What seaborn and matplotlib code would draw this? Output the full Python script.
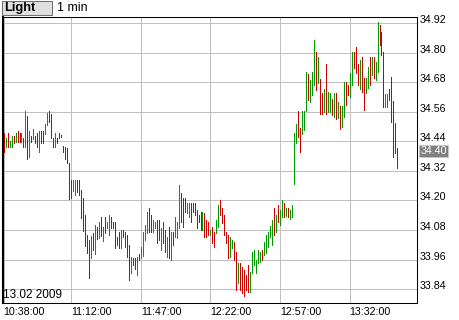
import numpy as np
import pandas as pd
import matplotlib
matplotlib.use("Agg")
import matplotlib.pyplot as plt
import matplotlib.transforms as mtransforms
from matplotlib.patches import Rectangle
import seaborn as sns

# ---------------- data ----------------
first_bar_time = "10:38:00"
date_label = "13.02 2009"
button_label = "Light"
interval_label = "1 min"
last_price = 34.40

xtick_labels = ["10:38:00", "11:12:00", "11:47:00", "12:22:00", "12:57:00", "13:32:00"]
ytick_values = [33.84, 33.96, 34.08, 34.20, 34.32, 34.44, 34.56, 34.68, 34.80, 34.92]

highs = [
    34.475, 34.455, 34.475, 34.442, 34.461, 34.461, 34.475, 34.482, 34.475, 34.475,
    34.455, 34.563, 34.543, 34.482, 34.461, 34.489, 34.461, 34.475, 34.482, 34.482,
    34.482, 34.510, 34.553, 34.563, 34.551, 34.455, 34.475, 34.455, 34.475, 34.464,
    34.421, 34.418, 34.412, 34.352, 34.283, 34.283, 34.283, 34.283, 34.283, 34.243,
    34.210, 34.141, 34.060, 34.040, 34.057, 34.068, 34.101, 34.093, 34.113, 34.133,
    34.093, 34.133, 34.113, 34.141, 34.133, 34.113, 34.113, 34.052, 34.072, 34.080,
    34.080, 34.072, 34.060, 34.020, 33.971, 33.967, 33.967, 33.971, 33.983, 34.011,
    34.072, 34.101, 34.155, 34.171, 34.141, 34.121, 34.114, 34.121, 34.121, 34.087,
    34.114, 34.080, 34.053, 34.094, 34.073, 34.073, 34.134, 34.114, 34.263, 34.229,
    34.209, 34.209, 34.189, 34.189, 34.189, 34.189, 34.189, 34.161, 34.141, 34.155,
    34.155, 34.148, 34.121, 34.114, 34.080, 34.094, 34.073, 34.121, 34.182, 34.202,
    34.168, 34.141, 34.073, 34.060, 34.053, 34.040, 34.033, 33.992, 33.945, 33.945,
    33.932, 33.918, 33.898, 33.938, 33.911, 33.992, 33.999, 33.959, 33.999, 33.992,
    33.999, 34.033, 34.060, 34.073, 34.097, 34.121, 34.168, 34.141, 34.182, 34.161,
    34.202, 34.191, 34.168, 34.168, 34.161, 34.182, 34.475, 34.510, 34.563, 34.493,
    34.563, 34.563, 34.722, 34.712, 34.688, 34.720, 34.851, 34.803, 34.783, 34.691,
    34.635, 34.651, 34.753, 34.641, 34.635, 34.610, 34.635, 34.635, 34.600, 34.583,
    34.583, 34.679, 34.679, 34.668, 34.716, 34.801, 34.803, 34.823, 34.752, 34.770,
    34.783, 34.695, 34.695, 34.742, 34.783, 34.783, 34.783, 34.763, 34.925, 34.911,
    34.884, 34.803, 34.632, 34.632, 34.652, 34.702, 34.603, 34.513, 34.414,
]

lows = [
    34.398, 34.418, 34.418, 34.418, 34.418, 34.432, 34.438, 34.438, 34.438, 34.438,
    34.418, 34.418, 34.368, 34.378, 34.438, 34.449, 34.432, 34.418, 34.398, 34.432,
    34.432, 34.468, 34.506, 34.519, 34.452, 34.418, 34.418, 34.432, 34.455, 34.459,
    34.398, 34.367, 34.351, 34.206, 34.210, 34.238, 34.222, 34.234, 34.222, 34.129,
    34.076, 34.016, 33.987, 33.886, 33.967, 33.999, 33.983, 34.044, 34.048, 34.057,
    34.036, 34.068, 34.089, 34.060, 34.089, 34.089, 34.007, 34.020, 34.007, 34.007,
    34.052, 34.011, 33.971, 33.878, 33.906, 33.938, 33.922, 33.898, 33.959, 33.967,
    33.975, 34.040, 34.067, 34.071, 34.071, 34.073, 34.087, 34.026, 34.040, 33.999,
    34.026, 33.992, 33.972, 33.966, 33.959, 34.020, 34.053, 34.047, 34.087, 34.114,
    34.094, 34.155, 34.148, 34.134, 34.114, 34.153, 34.141, 34.089, 34.113, 34.080,
    34.080, 34.053, 34.053, 34.060, 34.060, 34.026, 34.010, 34.067, 34.094, 34.141,
    34.107, 34.060, 34.026, 33.966, 33.972, 34.006, 33.959, 33.837, 33.867, 33.837,
    33.824, 33.813, 33.837, 33.830, 33.830, 33.905, 33.938, 33.907, 33.945, 33.952,
    33.959, 33.979, 33.986, 34.013, 34.053, 34.020, 34.060, 34.073, 34.114, 34.101,
    34.134, 34.132, 34.137, 34.132, 34.124, 34.132, 34.267, 34.432, 34.459, 34.398,
    34.470, 34.486, 34.563, 34.607, 34.600, 34.628, 34.668, 34.648, 34.675, 34.549,
    34.549, 34.560, 34.549, 34.560, 34.560, 34.547, 34.540, 34.529, 34.533, 34.489,
    34.499, 34.540, 34.587, 34.628, 34.621, 34.668, 34.738, 34.716, 34.668, 34.652,
    34.639, 34.567, 34.635, 34.655, 34.668, 34.709, 34.695, 34.688, 34.722, 34.830,
    34.790, 34.580, 34.580, 34.580, 34.607, 34.519, 34.378, 34.391, 34.330,
]

# G = up bar (green), R = down bar (red)
directions = list(
    "RGRGGRGRRG" "RGRGRGRRGR" "RGGRRRGRRR" "RRRRRGGRRR" "RRRRGRGRGR"
    "GRGGRRRRRG" "RRRRGRRGRG" "GGGRRGGRRG" "RRGRGRGGGR" "RRGGRRRRRR"
    "GRRRGRRGGR" "RRRRGGRRGR" "RRRRGGGGGG" "RGGGGGRGRG" "GRGRGGGGRR"
    "GGGRGGGRGR" "RGRGGRGRGR" "GGRRGGRRRG" "RRGGRGRGGR" "RRGGRRRRR"
)

# ---------------- styling ----------------
sns.set_style("white")
plt.rcParams["font.family"] = ["Liberation Sans", "DejaVu Sans"]

W, H = 460, 320
fig = plt.figure(figsize=(W / 100, H / 100), dpi=100)
ax = fig.add_axes([3 / W, 16.7 / H, 413.7 / W, 286.3 / H])


def to_minutes(s):
    h, m, _ = (int(v) for v in s.split(":"))
    return h * 60 + m


t0 = to_minutes(first_bar_time)
n = len(highs)
minute = np.arange(n)
df = pd.DataFrame({
    "bar": np.repeat(minute, 2),
    "minute": np.repeat(minute, 2),
    "price": np.column_stack([lows, highs]).ravel(),
    "dir": np.repeat(directions, 2),
})

sns.lineplot(
    data=df, x="minute", y="price", units="bar", hue="dir",
    estimator=None, sort=False, legend=False,
    palette={"G": "#009900", "R": "#cc0000"},
    linewidth=0.5, antialiased=False, ax=ax,
)

ax.set_xlim(-0.3, 207.7)
ax.set_ylim(33.783, 34.944)
ax.set_xlabel("")
ax.set_ylabel("")

xticks = [to_minutes(s) - t0 for s in xtick_labels]
ax.set_xticks(xticks)
ax.set_xticklabels(xtick_labels, ha="left")
ax.set_yticks(ytick_values)
ax.set_yticklabels([f"{v:.2f}" for v in ytick_values])
ax.yaxis.tick_right()
ax.tick_params(axis="both", length=0, labelsize=7.7, colors="black")
ax.tick_params(axis="x", pad=2.5)
ax.tick_params(axis="y", pad=2.4)
offset = mtransforms.ScaledTranslation(0, 4 / 100, fig.dpi_scale_trans)
for lab in ax.get_yticklabels():
    lab.set_transform(lab.get_transform() + offset)

ax.grid(True, color="#c0c0c0", linewidth=0.5, antialiased=False)
ax.set_axisbelow(True)
for side, sp in ax.spines.items():
    sp.set_visible(True)
    sp.set_color("black")
    sp.set_linewidth(0.75)
ax.spines["left"].set_linewidth(1.5)

# date inside plot area
fig.text(3.5 / W, 1 - 295.5 / H, date_label, ha="left", va="center",
         fontsize=8.5, color="black")

# header button and interval
fig.patches.append(Rectangle((2 / W, 1 - 15 / H), 50 / W, 14 / H,
                             transform=fig.transFigure, facecolor="#e0e0e0",
                             edgecolor="#707070", linewidth=0.75))
fig.text(4.5 / W, 1 - 8 / H, button_label, ha="left", va="center",
         fontsize=9.3, fontweight="bold", color="black")
fig.text(57 / W, 1 - 8 / H, interval_label, ha="left", va="center",
         fontsize=9, color="black")

# last price marker
ax.annotate(f"{last_price:.2f}", xy=(1, last_price),
            xycoords=("axes fraction", "data"),
            xytext=(3.5, 0), textcoords="offset pixels",
            ha="left", va="center", fontsize=7.7, color="white",
            bbox=dict(boxstyle="square,pad=0.12", fc="#7f7f7f",
                      ec="#c8c8c8", lw=0.75))

fig.savefig("out.png", dpi=100, facecolor="white")
